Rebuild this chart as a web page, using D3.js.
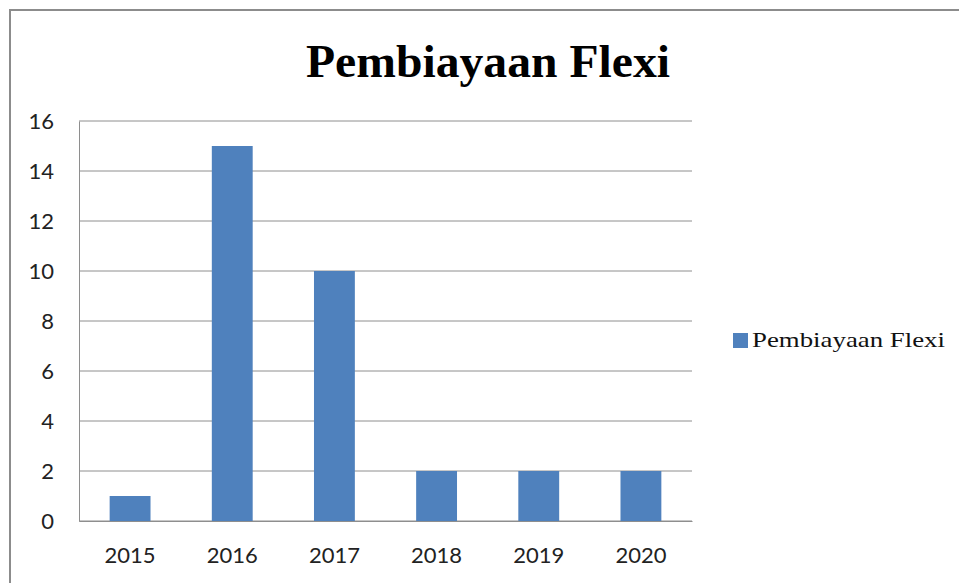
<!DOCTYPE html>
<meta charset="utf-8">
<script src="https://d3js.org/d3.v7.min.js"></script>
<style>
  body { margin: 0; background: #fff; }
</style>
<div id="chart"></div>
<script>

// data
var years = ["2015", "2016", "2017", "2018", "2019", "2020"];
var values = [1, 15, 10, 2, 2, 2];
var yTicks = [0, 2, 4, 6, 8, 10, 12, 14, 16];
var seriesName = "Pembiayaan Flexi";

var W = 959, H = 583;
var margin = {top: 121, right: 267, bottom: 62, left: 79},
    width = W - margin.left - margin.right,
    height = H - margin.top - margin.bottom;

var svg = d3.select("#chart")
  .append("svg")
    .attr("width", W)
    .attr("height", H);

// outer chart border (only left & top visible)
svg.append("rect")
  .attr("x", 10).attr("y", 10)
  .attr("width", W + 20).attr("height", H + 20)
  .attr("fill", "none")
  .attr("stroke", "#8c8c8c")
  .attr("stroke-width", 2);

// title
svg.append("text")
  .attr("x", 488).attr("y", 77)
  .attr("text-anchor", "middle")
  .attr("font-family", "'Liberation Serif', 'Times New Roman', serif")
  .attr("font-weight", "bold")
  .attr("font-size", 47)
  .attr("textLength", 364)
  .attr("lengthAdjust", "spacingAndGlyphs")
  .text(seriesName);

var g = svg.append("g")
  .attr("transform", "translate(" + margin.left + "," + margin.top + ")");

var x = d3.scaleBand()
  .domain(years)
  .range([0, width])
  .padding(0);

var y = d3.scaleLinear()
  .domain([0, 16])
  .range([height, 0]);

// gridlines
g.selectAll("line.grid")
  .data(yTicks)
  .enter()
  .append("line")
    .attr("class", "grid")
    .attr("x1", 0).attr("x2", width)
    .attr("y1", function(d) { return y(d); })
    .attr("y2", function(d) { return y(d); })
    .attr("stroke", "#8e8e8e")
    .attr("stroke-width", 1);

// bars
var barW = x.bandwidth() * 0.4;
g.selectAll("rect.bar")
  .data(values)
  .enter()
  .append("rect")
    .attr("class", "bar")
    .attr("x", function(d, i) { return x(years[i]) + (x.bandwidth() - barW) / 2; })
    .attr("y", function(d) { return y(d); })
    .attr("width", barW)
    .attr("height", function(d) { return height - y(d); })
    .attr("fill", "#4f81bd");

// Y axis
var yAxis = g.append("g")
  .call(d3.axisLeft(y).tickValues(yTicks).tickSize(0).tickPadding(25).tickFormat(d3.format("d")));
yAxis.select(".domain").attr("stroke", "#8e8e8e");
yAxis.selectAll("text")
  .attr("font-family", "Lato, 'Noto Sans', sans-serif")
  .attr("font-size", 22)
  .attr("fill", "#222");

// X axis
var xAxis = g.append("g")
  .attr("transform", "translate(0," + height + ")")
  .call(d3.axisBottom(x).tickSize(0).tickPadding(26));
xAxis.select(".domain").attr("stroke", "#8e8e8e");
xAxis.selectAll("text")
  .attr("font-family", "Lato, 'Noto Sans', sans-serif")
  .attr("font-size", 22)
  .attr("fill", "#222");

// legend
svg.append("rect")
  .attr("x", 733).attr("y", 333)
  .attr("width", 15).attr("height", 15)
  .attr("fill", "#4f81bd");
svg.append("text")
  .attr("x", 752).attr("y", 347)
  .attr("font-family", "'Liberation Serif', 'Times New Roman', serif")
  .attr("font-size", 21)
  .attr("textLength", 193)
  .attr("lengthAdjust", "spacingAndGlyphs")
  .attr("fill", "#111")
  .text(seriesName);

</script>
